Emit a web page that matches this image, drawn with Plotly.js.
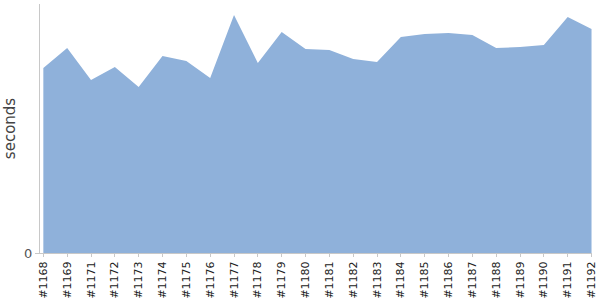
<!DOCTYPE html>
<html>
<head>
<meta charset="utf-8">
<script src="https://cdn.plot.ly/plotly-3.0.1.min.js"></script>
<style>html,body{margin:0;padding:0;background:#fff;}#chart{width:600px;height:300px;}</style>
</head>
<body>
<div id="chart"></div>
<script>
var builds = ["#1168","#1169","#1171","#1172","#1173","#1174","#1175","#1176","#1177","#1178","#1179","#1180","#1181","#1182","#1183","#1184","#1185","#1186","#1187","#1188","#1189","#1190","#1191","#1192"];
var seconds = [185,205,173,186,166,197,192,175,238,190,221,204,203,194,191,216,219,220,218,205,206,208,236,224];
var yTickVals = [0];
var yTickText = ["0"];

var trace = {
  x: builds,
  y: seconds,
  type: 'scatter',
  mode: 'lines',
  fill: 'tozeroy',
  fillcolor: 'rgb(143,177,218)',
  line: {width: 0, color: 'rgb(143,177,218)'},
  hoverinfo: 'x+y'
};

var layout = {
  width: 600, height: 300,
  margin: {l: 40, r: 8, t: 4, b: 47},
  paper_bgcolor: '#fff', plot_bgcolor: '#fff',
  showlegend: false,
  font: {family: '"DejaVu Sans", Verdana, sans-serif'},
  xaxis: {
    type: 'category',
    range: [-0.14, 23.02],
    showgrid: false, zeroline: false,
    showline: true, linecolor: '#c8c8c8', linewidth: 1,
    ticks: 'outside', ticklen: 3, tickcolor: '#c8c8c8',
    tickangle: -90,
    tickfont: {size: 11, color: '#222'},
    fixedrange: true
  },
  yaxis: {
    range: [0, 249],
    tickvals: yTickVals, ticktext: yTickText,
    showgrid: false, zeroline: false,
    showline: true, linecolor: '#c8c8c8', linewidth: 1,
    ticks: 'outside', ticklen: 4, tickcolor: '#c8c8c8',
    tickfont: {size: 13, color: '#555'},
    title: {text: 'seconds', font: {size: 15, color: '#444'}, standoff: 4},
    fixedrange: true
  }
};

Plotly.newPlot('chart', [trace], layout, {displayModeBar: false, staticPlot: true});
</script>
</body>
</html>
